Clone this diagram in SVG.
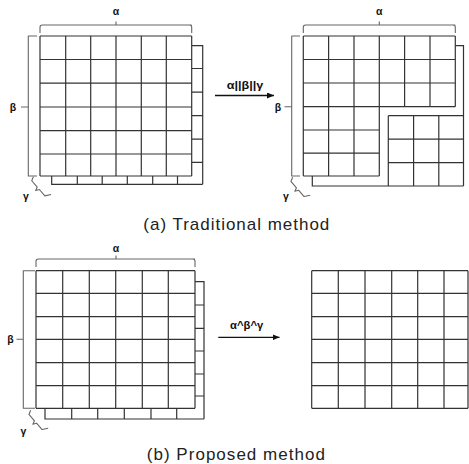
<svg xmlns="http://www.w3.org/2000/svg" width="469" height="464" viewBox="0 0 469 464">
  <style>
    .grid { fill: none; stroke: #333; stroke-width: 1.2; }
    .brace { fill: none; stroke: #666; stroke-width: 1.1; stroke-linejoin: round; }
    .sym { font-family: "Liberation Sans", "DejaVu Sans", sans-serif; font-weight: bold; font-size: 10.5px; fill: #111; text-anchor: middle; }
    .op { font-family: "Liberation Sans", "DejaVu Sans", sans-serif; font-weight: bold; font-size: 10px; fill: #111; }
    .caption { font-family: "Liberation Sans", "Noto Sans CJK KR", sans-serif; font-size: 17px; fill: #222; }
    .conn { fill: none; stroke: #111; stroke-width: 1.3; }
  </style>
  <defs>
    <marker id="head" viewBox="0 0 7 6" refX="7" refY="3" markerWidth="7" markerHeight="6" markerUnits="userSpaceOnUse" orient="auto">
      <path d="M0,0 L7,3 L0,6 z" fill="#111"/>
    </marker>
    <!-- small diagonal brace, drawn in local coordinates -->
    <path id="gbrace" d="M-12,-4 L-10,0 L-1.6,0 L0,3.5 L1.6,0 L10,0 L13,-5.5"/>
  </defs>

  <!-- (a) left: padded alpha x beta grid -->
  <g id="trad-input">
    <path class="grid" d="M40,36 V176 M65.7,36 V176 M90.7,36 V176 M116,36 V176 M141.3,36 V176 M166.3,36 V176 M191.7,36 V176
      M40,36 H191.7 M40,59.5 H191.7 M40,83.2 H191.7 M40,107 H191.7 M40,130.6 H191.7 M40,154 H191.7 M40,176 H191.7"/>
    <path class="grid" d="M191.7,45.7 H202.7 V184.3 M191.7,68.5 H202.7 M191.7,92.2 H202.7 M191.7,115.7 H202.7 M191.7,139.2 H202.7 M191.7,162.3 H202.7"/>
    <path class="grid" d="M51.7,176 V184.3 H202.7 M77.3,176 V184.3 M102.2,176 V184.3 M127.3,176 V184.3 M152.7,176 V184.3 M177.5,176 V184.3"/>
    <path class="brace" d="M40,33 V27.3 Q40,25 42.3,25 H191.7 M189.4,25 Q191.7,25 191.7,27.3 V33 M116,25 V21.5"/>
    <path class="brace" d="M37,36 H28.3 V176 H37 M28.3,107 H21"/>
    <use href="#gbrace" class="brace" transform="translate(38.3,188.3) rotate(49)"/>
    <text class="sym" x="116" y="14.5">α</text>
    <text class="sym" x="13" y="110.5">β</text>
    <text class="sym" x="26" y="199.5">γ</text>
  </g>

  <!-- (a) right: split layout -->
  <g id="trad-output">
    <path class="grid" d="M303.3,36 H455.3 M303.3,59.5 H455.3 M303.3,83 H455.3 M303.3,106.7 H455.3
      M303.3,130 H379.3 M303.3,153.2 H379.3 M303.3,176 H379.3
      M303.3,36 V176 M328.6,36 V176 M354,36 V176 M379.3,36 V176
      M404.6,36 V106.7 M430,36 V106.7 M455.3,36 V106.7"/>
    <path class="grid" d="M455.3,45.7 H463.5 V186 M312.3,176 V186 H463.5"/>
    <path class="grid" d="M388.3,115.7 H463.5 M388.3,139.2 H463.5 M388.3,162.6 H463.5
      M388.3,115.7 V186 M413.6,115.7 V186 M438.8,115.7 V186"/>
    <path class="brace" d="M303.3,33 V27.3 Q303.3,25 305.6,25 H455.3 M453,25 Q455.3,25 455.3,27.3 V33 M379.3,25 V21.5"/>
    <path class="brace" d="M300,36 H291.7 V176 H300 M291.7,106.7 H284.5"/>
    <use href="#gbrace" class="brace" transform="translate(297.5,189) rotate(49)"/>
    <text class="sym" x="379.3" y="14.5">α</text>
    <text class="sym" x="278" y="110.5">β</text>
    <text class="sym" x="286" y="200">γ</text>
  </g>

  <!-- (b) left: padded alpha x beta grid -->
  <g id="prop-input">
    <path class="grid" d="M36,270.7 V408.3 M62.7,270.7 V408.3 M89.3,270.7 V408.3 M115.7,270.7 V408.3 M142.3,270.7 V408.3 M168.3,270.7 V408.3 M195,270.7 V408.3
      M36,270.7 H195 M36,293.3 H195 M36,316.7 H195 M36,339.3 H195 M36,362.7 H195 M36,385.7 H195 M36,408.3 H195"/>
    <path class="grid" d="M195,281.7 H204 V419 M195,305 H204 M195,328.3 H204 M195,351 H204 M195,374 H204 M195,396 H204"/>
    <path class="grid" d="M45,408.3 V419 H204 M71.7,408.3 V419 M97.7,408.3 V419 M124.3,408.3 V419 M151,408.3 V419 M176.7,408.3 V419"/>
    <path class="brace" d="M36,267 V261.3 Q36,259 38.3,259 H195 M192.7,259 Q195,259 195,261.3 V267 M116,259 V255.5"/>
    <path class="brace" d="M35,270.7 H23.3 V408.3 H35 M23.3,339.3 H16.5"/>
    <use href="#gbrace" class="brace" transform="translate(35.5,422) rotate(49)"/>
    <text class="sym" x="116" y="252">α</text>
    <text class="sym" x="10.5" y="342.5">β</text>
    <text class="sym" x="23.5" y="434.5">γ</text>
  </g>

  <!-- (b) right: plain grid -->
  <g id="prop-output">
    <path class="grid" d="M311.7,270.7 V408.3 M338.3,270.7 V408.3 M365,270.7 V408.3 M391.7,270.7 V408.3 M417.7,270.7 V408.3 M444,270.7 V408.3 M468,270.7 V408.3
      M311.7,270.7 H468 M311.7,293.3 H468 M311.7,316.7 H468 M311.7,339.3 H468 M311.7,362.7 H468 M311.7,385.7 H468 M311.7,408.3 H468"/>
  </g>

  <!-- transformation arrows -->
  <g id="connectors">
    <path class="conn" d="M215,95.5 H274" marker-end="url(#head)"/>
    <text class="op" x="226.7" y="89" textLength="36.6" lengthAdjust="spacingAndGlyphs">α||β||γ</text>
    <path class="conn" d="M218.3,337.3 H279.5" marker-end="url(#head)"/>
    <text class="op" x="230" y="329" textLength="33.3" lengthAdjust="spacingAndGlyphs">α^β^γ</text>
  </g>

  <!-- captions -->
  <text class="caption" x="143.3" y="230" textLength="186" lengthAdjust="spacing">(a) Traditional method</text>
  <text class="caption" x="146.7" y="460" textLength="178.3" lengthAdjust="spacing">(b) Proposed method</text>
</svg>
